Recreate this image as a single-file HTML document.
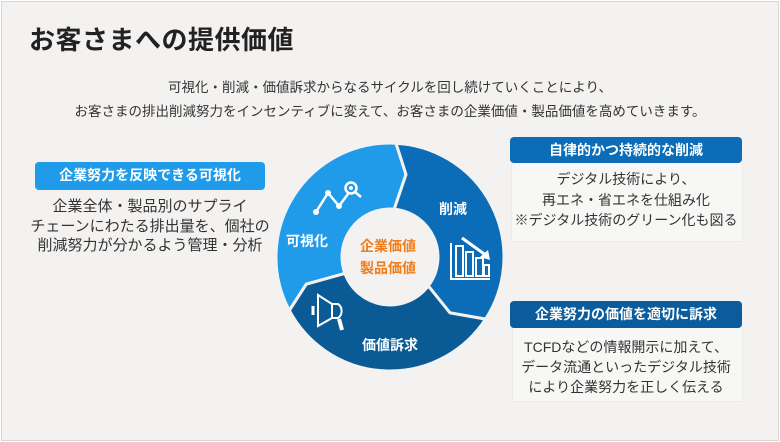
<!DOCTYPE html>
<html><head><meta charset="utf-8"><style>
html,body{margin:0;padding:0}
body{width:780px;height:442px;background:#fff;font-family:"Liberation Sans","Noto Sans CJK JP",sans-serif;position:relative;overflow:hidden}
.slide{position:absolute;left:1px;top:1px;width:776px;height:438px;background:#f3f2f1;border:1px solid #d6d6d6}
.abs{position:absolute}
.title{left:29px;top:20px;font-size:26px;font-weight:bold;color:#222;letter-spacing:0.5px}
.sub{left:0;width:780px;text-align:center;font-size:13.5px;color:#333}
.hdr{color:#fff;font-weight:bold;font-size:14px;text-align:center;border-radius:4px;line-height:27px}
.body{text-align:center;font-size:14px;color:#333;line-height:19.5px}
.wbox{background:#f7f7f6;border:1px solid #ebebea}
</style></head><body>
<div class="slide"></div>
<div class="abs title">お客さまへの提供価値</div>
<div class="abs sub" style="top:76px">可視化・削減・価値訴求からなるサイクルを回し続けていくことにより、</div>
<div class="abs sub" style="top:100px">お客さまの排出削減努力をインセンティブに変えて、お客さまの企業価値・製品価値を高めていきます。</div>

<div class="abs hdr" style="left:35px;top:162px;width:230px;height:28px;background:#1f9bea">企業努力を反映できる可視化</div>
<div class="abs body" style="left:20px;top:197px;width:260px;font-size:15px;line-height:19.5px">企業全体・製品別のサプライ<br>チェーンにわたる排出量を、個社の<br>削減努力が分かるよう管理・分析</div>

<div class="abs wbox" style="left:511px;top:160px;width:230px;height:80px"></div>
<div class="abs hdr" style="left:510px;top:137px;width:232px;height:26px;line-height:26px;background:#0b6db7">自律的かつ持続的な削減</div>
<div class="abs body" style="left:505px;top:169px;width:242px;line-height:20.5px">デジタル技術により、<br>再エネ・省エネを仕組み化<br>※デジタル技術のグリーン化も図る</div>

<div class="abs wbox" style="left:512px;top:326px;width:229px;height:74px"></div>
<div class="abs hdr" style="left:510px;top:301px;width:232px;height:27px;background:#0a5c9c">企業努力の価値を適切に訴求</div>
<div class="abs body" style="left:505px;top:337px;width:242px;line-height:20px">TCFDなどの情報開示に加えて、<br>データ流通といったデジタル技術<br>により企業努力を正しく伝える</div>

<svg class="abs" style="left:0;top:0" width="780" height="442" viewBox="0 0 780 442">
<g stroke="#f3f2f1" stroke-width="3" stroke-linejoin="miter">
<path fill="#1f9bea" d="M289.3,310.5 A114,114 0 0 1 396,143.2 L406,174.5 L394.2,209.2 A48,48 0 0 0 344.9,273.4 L306.3,284.2 Z"/>
<path fill="#0b6db7" d="M396,143.2 A114,114 0 0 1 485.6,319.1 L450,312.9 L428.3,285.9 A48,48 0 0 0 394.2,209.2 L406,174.5 Z"/>
<path fill="#0a5a96" d="M485.6,319.1 A114,114 0 0 1 289.3,310.5 L306.3,284.2 L344.9,273.4 A48,48 0 0 0 428.3,285.9 L450,312.9 Z"/>
</g>
<circle cx="388" cy="259" r="46" fill="#f3f2f1"/>
<g font-family="Liberation Sans,Noto Sans CJK JP,sans-serif" font-weight="bold" text-anchor="middle">
<text x="388" y="251" font-size="14" fill="#f07c1a">企業価値</text>
<text x="388" y="273" font-size="14" fill="#f07c1a">製品価値</text>
<text x="453" y="214" font-size="14" fill="#fff">削減</text>
<text x="307" y="246" font-size="14" fill="#fff">可視化</text>
<text x="390" y="350" font-size="14" fill="#fff">価値訴求</text>
</g>
<g stroke="#fff" stroke-width="2.5" fill="none">
<polyline points="316,212 328,193 339,206 348,194"/>
<circle cx="351" cy="188" r="5.5"/>
<line x1="355" y1="192" x2="361" y2="197"/>
</g>
<g fill="#fff"><circle cx="316" cy="212" r="3"/><circle cx="328" cy="193" r="3"/><circle cx="339" cy="206" r="3"/><circle cx="351" cy="188" r="2"/></g>
<g fill="none" stroke="#fff" stroke-width="2">
<polyline points="451,243 451,279 490,279"/>
<rect x="456" y="246" width="7" height="30"/>
<rect x="466" y="252" width="7" height="24"/>
<rect x="476" y="258" width="7" height="18"/>
<rect x="484" y="265" width="5" height="11"/>
<line x1="462" y1="238" x2="487" y2="256" stroke-width="3"/>
</g>
<polygon points="490,260 480,257 488,250" fill="#fff"/>
<g fill="none" stroke="#fff" stroke-width="2">
<polygon points="318,295 332,304 332,318 318,326"/>
<path d="M332,304 L338,304 A7,8 0 0 1 338,318 L332,318"/>
<line x1="313" y1="306" x2="313" y2="315" stroke-width="3"/>
<line x1="339" y1="319" x2="342" y2="330" stroke-width="4"/>
</g>
</svg>
</body></html>
